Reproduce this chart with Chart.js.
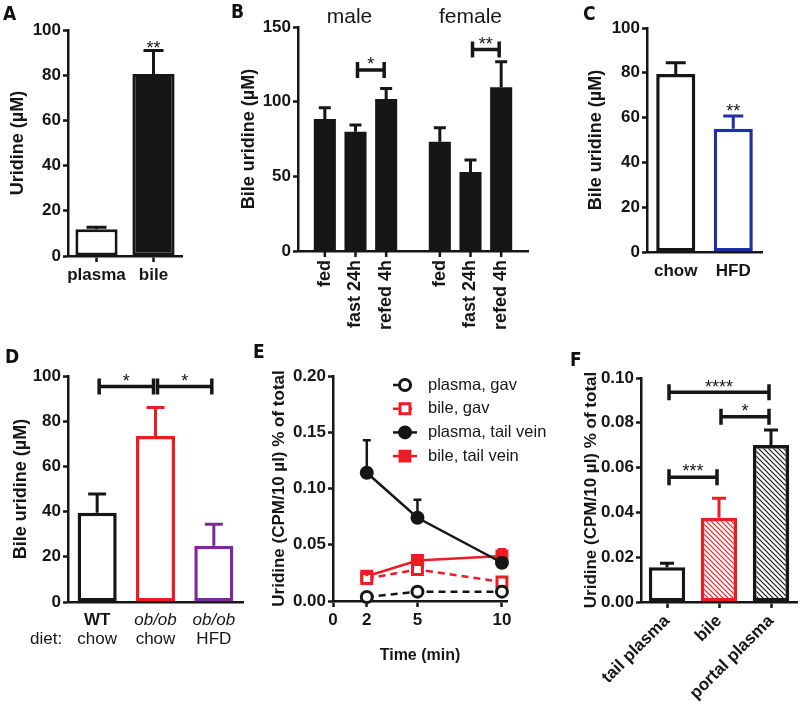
<!DOCTYPE html>
<html>
<head>
<meta charset="utf-8">
<title>Uridine panels</title>
<script src="https://cdn.jsdelivr.net/npm/chart.js@4.4.1/dist/chart.umd.min.js"></script>
<style>
  html, body { margin: 0; padding: 0; background: #fff; }
  #page { position: relative; width: 800px; height: 705px; overflow: hidden; }
  #page canvas { position: absolute; }
  .tag { position: absolute; font: bold 19px/19px "Liberation Sans Narrow", "DejaVu Sans Condensed", "Liberation Sans", sans-serif; color: #111; }
</style>
</head>
<body>
<div id="page">
  <canvas id="cA" width="200" height="340" style="left:0;top:0"></canvas>
  <canvas id="cB" width="300" height="340" style="left:230px;top:0"></canvas>
  <canvas id="cC" width="260" height="340" style="left:540px;top:0"></canvas>
  <canvas id="cD" width="270" height="350" style="left:0;top:355px"></canvas>
  <canvas id="cE" width="305" height="350" style="left:250px;top:355px"></canvas>
  <canvas id="cF" width="245" height="350" style="left:555px;top:355px"></canvas>
  <div class="tag" style="left:3px;top:4px">A</div>
  <div class="tag" style="left:231px;top:2px">B</div>
  <div class="tag" style="left:583px;top:4px">C</div>
  <div class="tag" style="left:5px;top:347px">D</div>
  <div class="tag" style="left:253px;top:342px">E</div>
  <div class="tag" style="left:570px;top:350px">F</div>
</div>
<script>
// ---- data ----
// A
const catsA = ['plasma', 'bile'];
const valsA = [11.8, 80.5];
const errA = [0.9, 10.4];
const yTicksA = [0, 20, 40, 60, 80, 100];

// B
const groupsB = ['male', 'female'];
const conditionsB = ['fed', 'fast 24h', 'refed 4h'];
const maleB = [88.4, 79.9, 101.8];
const maleErrB = [7.6, 4.5, 7.1];
const femaleB = [73.2, 52.9, 109.6];
const femaleErrB = [9.4, 8.0, 17.2];
const yTicksB = [0, 50, 100, 150];

// C
const catsC = ['chow', 'HFD'];
const valsC = [79.5, 55.0];
const errC = [5.0, 5.7];
const yTicksC = [0, 20, 40, 60, 80, 100];

// D
const genotypeD = ['WT', 'ob/ob', 'ob/ob'];
const dietD = ['chow', 'chow', 'HFD'];
const valsD = [39.5, 73.5, 24.9];
const errD = [8.3, 12.6, 9.5];
const yTicksD = [0, 20, 40, 60, 80, 100];
const dietCaption = 'diet:';

// E
const timeE = [2, 5, 10];
const plasmaGavE = [0.0036, 0.0083, 0.0083];
const bileGavE = [0.020, 0.028, 0.017];
const plasmaTailE = [0.114, 0.074, 0.034];
const plasmaTailErrE = [0.029, 0.016, 0.002];
const bileTailE = [0.022, 0.036, 0.040];
const bileTailErrE = [0.004, 0.003, 0.006];
const xTicksE = [0, 2, 5, 10];
const yTicksE = [0, 0.05, 0.10, 0.15, 0.20];

// F
const catsF = ['tail plasma', 'bile', 'portal plasma'];
const valsF = [0.0155, 0.0376, 0.0701];
const errF = [0.0018, 0.0087, 0.0067];
const yTicksF = [0, 0.02, 0.04, 0.06, 0.08, 0.10];

// ---- look ----
const FONT = "'Liberation Sans', Arial, Helvetica, sans-serif";
const INK = '#161616';
const RED = '#ec1c24';
const BLUE = '#1f2fa6';
const PURPLE = '#7b2a9e';
const TICK = 17;

Chart.defaults.font.family = FONT;
Chart.defaults.color = INK;

function hatch(color) {
  const c = document.createElement('canvas');
  c.width = c.height = 5;
  const g = c.getContext('2d');
  g.strokeStyle = color;
  g.lineWidth = 1.2;
  g.beginPath();
  g.moveTo(-1, -1); g.lineTo(6, 6);
  g.moveTo(-1, 4); g.lineTo(1, 6);
  g.moveTo(4, -1); g.lineTo(6, 1);
  g.stroke();
  return g.createPattern(c, 'repeat');
}

function yScale(ticks, title, width, titleSize, fmt) {
  return {
    min: ticks[0],
    max: ticks[ticks.length - 1],
    afterBuildTicks: s => { s.ticks = ticks.map(v => ({ value: v })); },
    afterFit: s => { s.width = width; },
    border: { color: INK, width: 2.5 },
    grid: { drawOnChartArea: false, tickLength: 5, tickColor: INK, tickWidth: 2.5 },
    ticks: { color: INK, padding: 2, font: { size: TICK, weight: 'bold' },
             callback: v => fmt ? fmt(v) : v },
    title: { display: true, text: title, color: INK, font: { size: titleSize || 18, weight: 'bold' } }
  };
}

function xCat(height, rotation, showTicks, showLabels) {
  return {
    afterFit: s => { s.height = height; },
    border: { color: INK, width: 2.5 },
    grid: { drawOnChartArea: false, offset: false, tickLength: 6,
            tickColor: showTicks ? INK : 'rgba(0,0,0,0)', tickWidth: 2.5 },
    ticks: { display: showLabels !== false, color: INK, autoSkip: false, padding: 3,
             maxRotation: rotation, minRotation: rotation, font: { size: TICK, weight: 'bold' } }
  };
}

function frame(padding, scales, extra) {
  return {
    responsive: false,
    animation: false,
    layout: { padding },
    scales,
    plugins: Object.assign({ legend: { display: false }, tooltip: { enabled: false } }, extra || {})
  };
}

// upper whiskers
const errorBars = {
  id: 'errorBars',
  afterDatasetsDraw(chart) {
    const ctx = chart.ctx, ys = chart.scales.y;
    chart.data.datasets.forEach((ds, i) => {
      if (!ds.errors) return;
      chart.getDatasetMeta(i).data.forEach((el, j) => {
        const raw = ds.data[j];
        const v = raw && typeof raw === 'object' ? raw.y : raw;
        const e = ds.errors[j];
        if (v == null || e == null) return;
        const y0 = ys.getPixelForValue(v), y1 = ys.getPixelForValue(v + e);
        const half = ds.capWidth / 2;
        ctx.save();
        ctx.strokeStyle = Array.isArray(ds.errorColor) ? ds.errorColor[j] : ds.errorColor;
        ctx.lineWidth = ds.errorWidth || 3;
        ctx.beginPath();
        ctx.moveTo(el.x, y0); ctx.lineTo(el.x, y1);
        ctx.moveTo(el.x - half, y1); ctx.lineTo(el.x + half, y1);
        ctx.stroke();
        ctx.restore();
      });
    });
  }
};

// significance brackets and stars
function star(ctx, text, x, cy) { ctx.fillText(text, x, cy + 18 * 0.57); }
const sigMarks = {
  id: 'sig',
  afterDatasetsDraw(chart, args, o) {
    const ctx = chart.ctx, ys = chart.scales.y;
    const px = ref => chart.getDatasetMeta(ref[0]).data[ref[1]].x;
    ctx.save();
    ctx.strokeStyle = INK; ctx.fillStyle = INK; ctx.lineWidth = 3.5;
    ctx.font = '18px ' + FONT; ctx.textAlign = 'center'; ctx.textBaseline = 'alphabetic';
    (o.brackets || []).forEach(b => {
      const x0 = px(b.from) + 2, x1 = px(b.to) - 2, y = ys.getPixelForValue(b.y);
      ctx.beginPath();
      ctx.moveTo(x0, y); ctx.lineTo(x1, y);
      ctx.moveTo(x0, y - 8); ctx.lineTo(x0, y + 8);
      ctx.moveTo(x1, y - 8); ctx.lineTo(x1, y + 8);
      ctx.stroke();
      star(ctx, b.label, (x0 + x1) / 2, y - 10);
    });
    (o.stars || []).forEach(s => star(ctx, s.label, px(s.at), ys.getPixelForValue(s.y)));
    ctx.restore();
  }
};

// ---- A ----
new Chart(document.getElementById('cA'), {
  type: 'bar',
  data: { labels: catsA, datasets: [{
    data: valsA, errors: errA, errorColor: INK, capWidth: 20,
    backgroundColor: ['#fff', INK], borderColor: INK, borderWidth: 3, borderSkipped: false,
    categoryPercentage: 1, barPercentage: 0.74
  }] },
  options: frame({ left: 3, top: 30, right: 18, bottom: 0 },
    { x: xCat(84, 0, true), y: yScale(yTicksA, 'Uridine (µM)', 65) },
    { sig: { stars: [{ at: [0, 1], y: 94, label: '**' }] } }),
  plugins: [errorBars, sigMarks]
});

// ---- B ----
const bLabels = {
  id: 'bLabels',
  afterDraw(chart) {
    const ctx = chart.ctx, area = chart.chartArea;
    const metas = chart.data.datasets.map((d, i) => chart.getDatasetMeta(i));
    ctx.save();
    ctx.fillStyle = INK; ctx.strokeStyle = INK; ctx.lineWidth = 2.5;
    groupsB.forEach((g, gi) => {
      const xs = metas.map(m => m.data[gi].x);
      ctx.font = '21px ' + FONT; ctx.textAlign = 'center'; ctx.textBaseline = 'alphabetic';
      ctx.fillText(g, (xs[0] + xs[xs.length - 1]) / 2 - (gi === 0 ? 6 : 0), 23);
      xs.forEach((x, k) => {
        ctx.beginPath(); ctx.moveTo(x, area.bottom); ctx.lineTo(x, area.bottom + 6); ctx.stroke();
        ctx.save();
        ctx.translate(x, area.bottom + 9);
        ctx.rotate(-Math.PI / 2);
        ctx.font = 'bold 18px ' + FONT; ctx.textAlign = 'right'; ctx.textBaseline = 'middle';
        ctx.fillText(conditionsB[k], 0, 0);
        ctx.restore();
      });
    });
    ctx.restore();
  }
};
new Chart(document.getElementById('cB'), {
  type: 'bar',
  data: { labels: groupsB, datasets: conditionsB.map((c, k) => ({
    label: c, data: [maleB[k], femaleB[k]], errors: [maleErrB[k], femaleErrB[k]],
    errorColor: INK, capWidth: 12,
    backgroundColor: INK, borderColor: INK, borderWidth: 0, borderSkipped: false,
    categoryPercentage: 0.8, barPercentage: 0.72
  })) },
  options: frame({ left: 4, top: 27, right: 2, bottom: 0 },
    { x: xCat(89, 0, false, false), y: yScale(yTicksB, 'Bile uridine (µM)', 64) },
    { sig: { brackets: [
      { from: [1, 0], to: [2, 0], y: 121.2, label: '*' },
      { from: [1, 1], to: [2, 1], y: 135, label: '**' }
    ] } }),
  plugins: [errorBars, sigMarks, bLabels]
});

// ---- C ----
new Chart(document.getElementById('cC'), {
  type: 'bar',
  data: { labels: catsC, datasets: [{
    data: valsC, errors: errC, errorColor: [INK, BLUE], capWidth: 20,
    backgroundColor: '#fff', borderColor: [INK, BLUE], borderWidth: 3.5, borderSkipped: false,
    categoryPercentage: 1, barPercentage: 0.68
  }] },
  options: frame({ left: 41, top: 28, right: 38, bottom: 0 },
    { x: xCat(88, 0, false), y: yScale(yTicksC, 'Bile uridine (µM)', 66) },
    { sig: { stars: [{ at: [0, 1], y: 65, label: '**' }] } }),
  plugins: [errorBars, sigMarks]
});

// ---- D ----
const dLabels = {
  id: 'dLabels',
  afterDraw(chart, args, o) {
    const ctx = chart.ctx;
    ctx.save();
    ctx.fillStyle = INK; ctx.textAlign = 'center'; ctx.textBaseline = 'middle';
    chart.getDatasetMeta(0).data.forEach((el, i) => {
      ctx.font = (i === 0 ? 'bold ' : 'italic ') + '17px ' + FONT;
      ctx.fillText(genotypeD[i], el.x, o.row1);
      ctx.font = '17px ' + FONT;
      ctx.fillText(dietD[i], el.x, o.row2);
    });
    ctx.textAlign = 'left';
    ctx.fillText(dietCaption, o.captionX, o.row2);
    ctx.restore();
  }
};
new Chart(document.getElementById('cD'), {
  type: 'bar',
  data: { labels: genotypeD, datasets: [{
    data: valsD, errors: errD, errorColor: [INK, RED, PURPLE], capWidth: 18,
    backgroundColor: '#fff', borderColor: [INK, RED, PURPLE], borderWidth: 3.5, borderSkipped: false,
    categoryPercentage: 1, barPercentage: 0.67
  }] },
  options: frame({ left: 6, top: 21, right: 27, bottom: 0 },
    { x: xCat(103, 0, false, false), y: yScale(yTicksD, 'Bile uridine (µM)', 62) },
    { sig: { brackets: [
        { from: [0, 0], to: [0, 1], y: 95.3, label: '*' },
        { from: [0, 1], to: [0, 2], y: 95.3, label: '*' }
      ] },
      dLabels: { row1: 265, row2: 284, captionX: 30 } }),
  plugins: [errorBars, sigMarks, dLabels]
});

// ---- E ----
function marker(ctx, ds, x, y) {
  ctx.fillStyle = ds.pointBackgroundColor;
  ctx.strokeStyle = ds.pointBorderColor;
  ctx.lineWidth = ds.pointBorderWidth;
  ctx.beginPath();
  if (ds.pointStyle === 'rect') {
    const s = ds.pointRadius * Math.SQRT1_2;
    ctx.rect(x - s, y - s, 2 * s, 2 * s);
  } else {
    ctx.arc(x, y, ds.pointRadius, 0, Math.PI * 2);
  }
  ctx.fill(); ctx.stroke();
}
const legendE = {
  id: 'legendE',
  afterDraw(chart, args, o) {
    const ctx = chart.ctx;
    chart.data.datasets.forEach((ds, i) => {
      const y = o.y + i * o.step;
      ctx.save();
      ctx.strokeStyle = ds.borderColor; ctx.lineWidth = 2.5;
      ctx.setLineDash(ds.borderDash || []);
      ctx.beginPath(); ctx.moveTo(o.x - 12, y); ctx.lineTo(o.x + 12, y); ctx.stroke();
      ctx.setLineDash([]);
      marker(ctx, ds, o.x, y);
      ctx.fillStyle = INK; ctx.font = '16.5px ' + FONT;
      ctx.textAlign = 'left'; ctx.textBaseline = 'middle';
      ctx.fillText(ds.label, o.textX, y);
      ctx.restore();
    });
  }
};
function series(label, vals, color, dashed, style, filled, errs) {
  return {
    label,
    data: timeE.map((t, i) => ({ x: t, y: vals[i] })),
    errors: errs, errorColor: color, capWidth: 8, errorWidth: 2.5,
    borderColor: color, borderWidth: 2.5, borderDash: dashed ? [7, 5] : [],
    pointStyle: style, pointRadius: style === 'rect' ? 7 : 5.5,
    pointBackgroundColor: filled ? color : '#fff', pointBorderColor: color, pointBorderWidth: 3,
    tension: 0, clip: false
  };
}
new Chart(document.getElementById('cE'), {
  type: 'line',
  data: { datasets: [
    series('plasma, gav', plasmaGavE, INK, true, 'circle', false),
    series('bile, gav', bileGavE, RED, true, 'rect', false),
    series('plasma, tail vein', plasmaTailE, INK, false, 'circle', true, plasmaTailErrE),
    series('bile, tail vein', bileTailE, RED, false, 'rect', true, bileTailErrE)
  ] },
  options: frame({ left: 15, top: 21, right: 48, bottom: 36 }, {
    x: {
      type: 'linear', min: xTicksE[0], max: 10.3,
      afterBuildTicks: s => { s.ticks = xTicksE.map(v => ({ value: v })); },
      afterFit: s => { s.height = 68; },
      border: { color: INK, width: 2.5 },
      grid: { drawOnChartArea: false, tickLength: 6, tickColor: INK, tickWidth: 2.5 },
      ticks: { color: INK, padding: 3, font: { size: TICK, weight: 'bold' } },
      title: { display: true, text: 'Time (min)', color: INK, font: { size: 16, weight: 'bold' } }
    },
    y: yScale(yTicksE, 'Uridine (CPM/10 µl) % of total', 68, 17, v => v.toFixed(2))
  }, { legendE: { x: 155, textX: 178, y: 30, step: 23.7 } }),
  plugins: [errorBars, legendE]
});

// ---- F ----
new Chart(document.getElementById('cF'), {
  type: 'bar',
  data: { labels: catsF, datasets: [{
    data: valsF, errors: errF, errorColor: [INK, RED, INK], capWidth: 14,
    backgroundColor: ['#fff', hatch(RED), hatch(INK)], borderColor: [INK, RED, INK],
    borderWidth: 3.5, borderSkipped: false,
    categoryPercentage: 1, barPercentage: 0.7
  }] },
  options: frame({ left: 22, top: 23, right: 3, bottom: 0 },
    { x: xCat(103, 45, true), y: yScale(yTicksF, 'Uridine (CPM/10 µl) % of total', 64, 17, v => v.toFixed(2)) },
    { sig: { brackets: [
      { from: [0, 0], to: [0, 2], y: 0.0936, label: '****' },
      { from: [0, 1], to: [0, 2], y: 0.0827, label: '*' },
      { from: [0, 0], to: [0, 1], y: 0.0557, label: '***' }
    ] } }),
  plugins: [errorBars, sigMarks]
});
</script>
</body>
</html>
